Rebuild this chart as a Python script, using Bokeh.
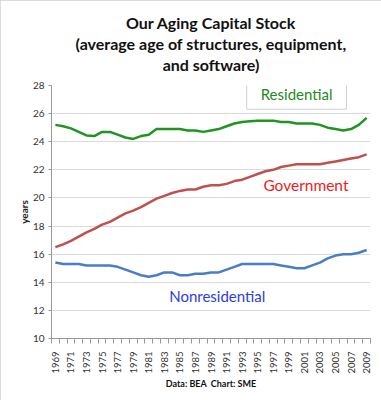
import numpy as np
from bokeh.plotting import figure
from bokeh.models import Title, Label, FixedTicker, Range1d, ColumnDataSource
from bokeh.embed import file_html
from bokeh.resources import INLINE

years = list(range(1969, 2010))
residential = [25.2, 25.1, 24.95, 24.7, 24.45, 24.4, 24.7, 24.7, 24.5, 24.3,
               24.2, 24.4, 24.5, 24.9, 24.9, 24.9, 24.9, 24.8, 24.8, 24.7,
               24.8, 24.9, 25.1, 25.3, 25.4, 25.45, 25.5, 25.5, 25.5, 25.4,
               25.4, 25.3, 25.3, 25.3, 25.2, 25.0, 24.9, 24.8, 24.9, 25.2, 25.7]
government = [16.5, 16.7, 16.95, 17.25, 17.55, 17.8, 18.1, 18.3, 18.6, 18.9,
              19.1, 19.35, 19.65, 19.95, 20.15, 20.35, 20.5, 20.6, 20.6, 20.8,
              20.9, 20.9, 21.0, 21.2, 21.3, 21.5, 21.7, 21.9, 22.0, 22.2,
              22.3, 22.4, 22.4, 22.4, 22.4, 22.5, 22.6, 22.7, 22.8, 22.9, 23.1]
nonresidential = [15.4, 15.3, 15.3, 15.3, 15.2, 15.2, 15.2, 15.2, 15.1, 14.9,
                  14.7, 14.5, 14.4, 14.5, 14.7, 14.7, 14.5, 14.5, 14.6, 14.6,
                  14.7, 14.7, 14.9, 15.1, 15.3, 15.3, 15.3, 15.3, 15.3, 15.2,
                  15.1, 15.0, 15.0, 15.2, 15.4, 15.7, 15.9, 16.0, 16.0, 16.1, 16.3]
tick_years = list(range(1969, 2010, 2))
y_ticks = list(range(10, 29, 2))
title_lines = ["Our Aging Capital Stock",
               "(average age of structures, equipment,",
               "and software)"]
footer = "Data: BEA\u00a0\u00a0Chart: SME"
y_label = "years"

FONT = "Lato"
GREEN = "#1f941f"
RED = "#c0504d"
BLUE = "#4a7ec4"

p = figure(width=381, height=400, output_backend="svg", toolbar_location=None,
           x_range=Range1d(years[0] - 0.5, years[-1] + 0.5),
           y_range=Range1d(10, 28),
           min_border_left=51, min_border_right=11, min_border_top=85,
           min_border_bottom=62)
p.outline_line_color = None
p.background_fill_color = "white"
p.border_fill_color = "white"
p.styles = {"outline": "1px solid #d0d0d0", "outline-offset": "-1px"}

# spacer between the plot area and the last title line
p.add_layout(Title(text=" ", text_font=FONT, text_font_size="8px",
                   standoff=0), "above")
for t in reversed(title_lines):
    p.add_layout(Title(text=t, align="center", text_font=FONT,
                       text_font_size="16px", text_font_style="bold",
                       text_color="#111111", standoff=0), "above")

src = ColumnDataSource(dict(x=years, r=residential, g=government, n=nonresidential))
p.line("x", "r", source=src, line_color=GREEN, line_width=2.5)
p.line("x", "g", source=src, line_color=RED, line_width=2.5)
p.line("x", "n", source=src, line_color=BLUE, line_width=2.5)

# axes
p.xaxis.ticker = FixedTicker(ticks=tick_years,
                             minor_ticks=[y - 0.5 for y in years] + [years[-1] + 0.5])
p.xaxis.major_label_orientation = np.pi / 2
p.xaxis.major_tick_out = 0
p.xaxis.major_tick_in = 0
p.xaxis.minor_tick_out = 5
p.xaxis.minor_tick_in = 0
p.xaxis.minor_tick_line_color = "#999999"
p.xaxis.axis_line_color = "#999999"
p.xaxis.major_label_standoff = 8
p.xaxis.major_label_text_font = FONT
p.xaxis.major_label_text_font_size = "9.5px"
p.xaxis.major_label_text_color = "#333333"
p.xaxis.axis_label = footer
p.xaxis.axis_label_text_font = FONT
p.xaxis.axis_label_text_font_size = "9px"
p.xaxis.axis_label_text_font_style = "bold"
p.xaxis.axis_label_text_color = "#111111"
p.xaxis.axis_label_standoff = 1

p.yaxis.ticker = FixedTicker(ticks=y_ticks, minor_ticks=[])
p.yaxis.major_tick_out = 3
p.yaxis.major_tick_in = 0
p.yaxis.major_tick_line_color = "#999999"
p.yaxis.axis_line_color = "#999999"
p.yaxis.major_label_standoff = 4
p.yaxis.major_label_text_font = FONT
p.yaxis.major_label_text_font_size = "10px"
p.yaxis.major_label_text_color = "#333333"
p.yaxis.axis_label = y_label
p.yaxis.axis_label_text_font = FONT
p.yaxis.axis_label_text_font_size = "10px"
p.yaxis.axis_label_text_font_style = "bold"
p.yaxis.axis_label_text_color = "#222222"
p.yaxis.axis_label_standoff = 0

p.xgrid.grid_line_color = None
p.ygrid.grid_line_color = "#dadada"
p.ygrid.grid_line_width = 1

p.add_layout(Label(x=2000.0, y=27.38, text="Residential", text_align="center",
                   text_baseline="middle", text_font=FONT, text_font_size="15px",
                   text_color="#238a23", border_line_color="#d0d0d0",
                   background_fill_color="white", padding=dict(x=14, y=6)))
p.add_layout(Label(x=2001.2, y=20.9, text="Government", text_align="center",
                   text_baseline="middle", text_font=FONT, text_font_size="15.5px",
                   text_color="#ee1c1c"))
p.add_layout(Label(x=1989.8, y=13.03, text="Nonresidential", text_align="center",
                   text_baseline="middle", text_font=FONT, text_font_size="15px",
                   text_color="#2b3de8"))

open("out.html", "w").write(file_html(p, INLINE))
